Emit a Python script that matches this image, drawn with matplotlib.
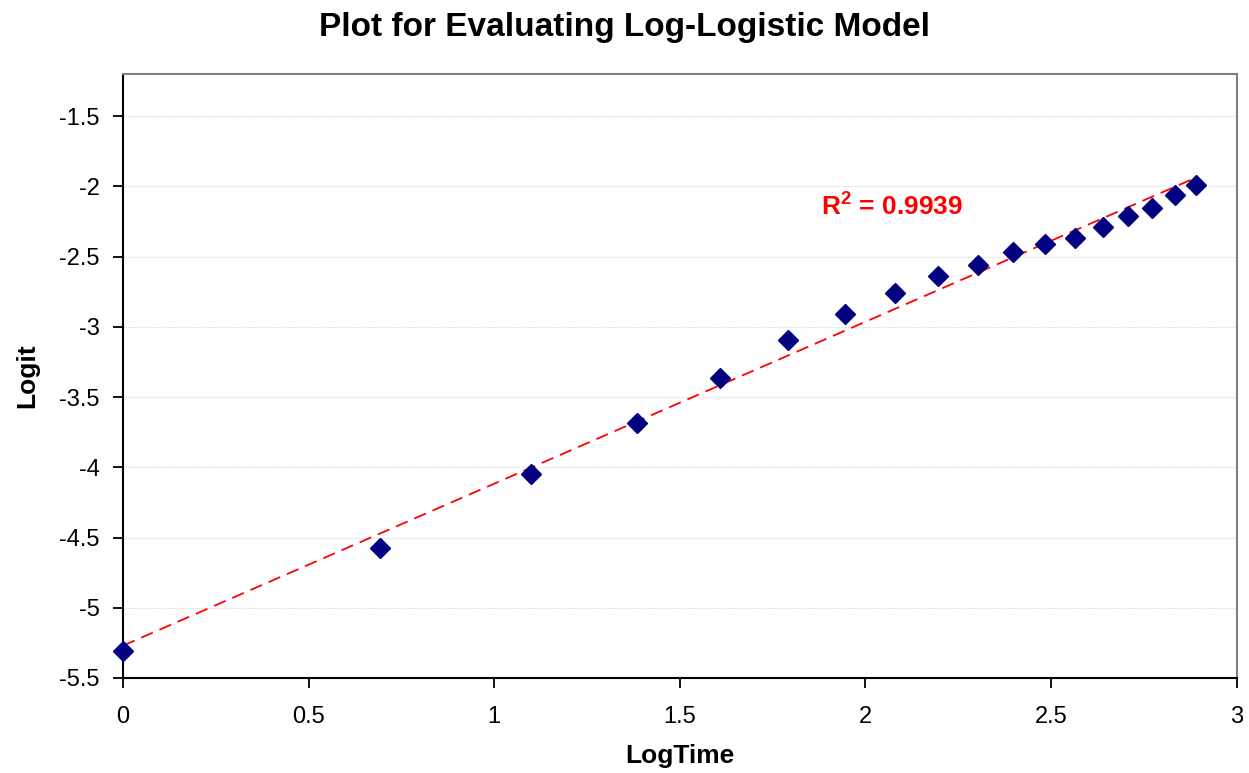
import matplotlib
matplotlib.use("Agg")
import matplotlib.pyplot as plt
import numpy as np

plt.rcParams['font.family'] = ['Liberation Sans', 'DejaVu Sans']
plt.rcParams['mathtext.fontset'] = 'custom'
plt.rcParams['mathtext.bf'] = 'Liberation Sans:bold'
plt.rcParams['mathtext.rm'] = 'Liberation Sans:bold'

log_time = [0.0, 0.693, 1.099, 1.386, 1.609, 1.792, 1.946, 2.079, 2.197,
            2.303, 2.398, 2.485, 2.565, 2.639, 2.708, 2.773, 2.833, 2.890]
logit = [-5.31, -4.575, -4.048, -3.685, -3.365, -3.094, -2.909, -2.76, -2.639,
         -2.56, -2.468, -2.411, -2.368, -2.29, -2.212, -2.155, -2.062, -1.991]
r2_label = "R$^{\\mathrm{2}}$ = 0.9939"

fig = plt.figure(figsize=(12.49, 7.73), dpi=100)
ax = fig.add_axes([0.0985, 0.1229, 0.8915, 0.7814])

ax.set_xlim(0, 3)
ax.set_ylim(-5.5, -1.2)
ax.set_xticks([0, 0.5, 1, 1.5, 2, 2.5, 3])
ax.set_xticklabels(['0', '0.5', '1', '1.5', '2', '2.5', '3'])
ax.set_yticks([-5.5, -5, -4.5, -4, -3.5, -3, -2.5, -2, -1.5])
ax.set_yticklabels(['-5.5', '-5', '-4.5', '-4', '-3.5', '-3', '-2.5', '-2', '-1.5'])
ax.grid(axis='y', color='#d9d9d9', linewidth=0.8, linestyle=(0, (1, 1)))
ax.set_axisbelow(True)

coef = np.polyfit(log_time, logit, 1)
xs = np.array([log_time[0], log_time[-1]])
ax.plot(xs, np.polyval(coef, xs), color='red', linestyle=(0, (7, 4)), linewidth=1.3, zorder=2)

ax.plot(log_time, logit, linestyle='none', marker='D', markersize=10,
        color='#000080', markeredgecolor='#000080', zorder=3, clip_on=False)

ax.text(1.88, -2.14, r2_label, color='red', fontsize=19, fontweight='bold', va='center')

for s in ['left', 'bottom']:
    ax.spines[s].set_color('black')
    ax.spines[s].set_linewidth(1.5)
for s in ['top', 'right']:
    ax.spines[s].set_color('#808080')
    ax.spines[s].set_linewidth(1.5)

ax.tick_params(axis='both', direction='out', length=7, width=1.3, labelsize=17)
ax.tick_params(axis='y', pad=10)
ax.tick_params(axis='x', pad=13)

ax.set_xlabel('LogTime', fontsize=19, fontweight='bold', labelpad=12)
ax.set_ylabel('Logit', fontsize=19, fontweight='bold', labelpad=14)
fig.suptitle('Plot for Evaluating Log-Logistic Model', fontsize=24, fontweight='bold', y=0.985)

fig.savefig('out.png', dpi=100)
